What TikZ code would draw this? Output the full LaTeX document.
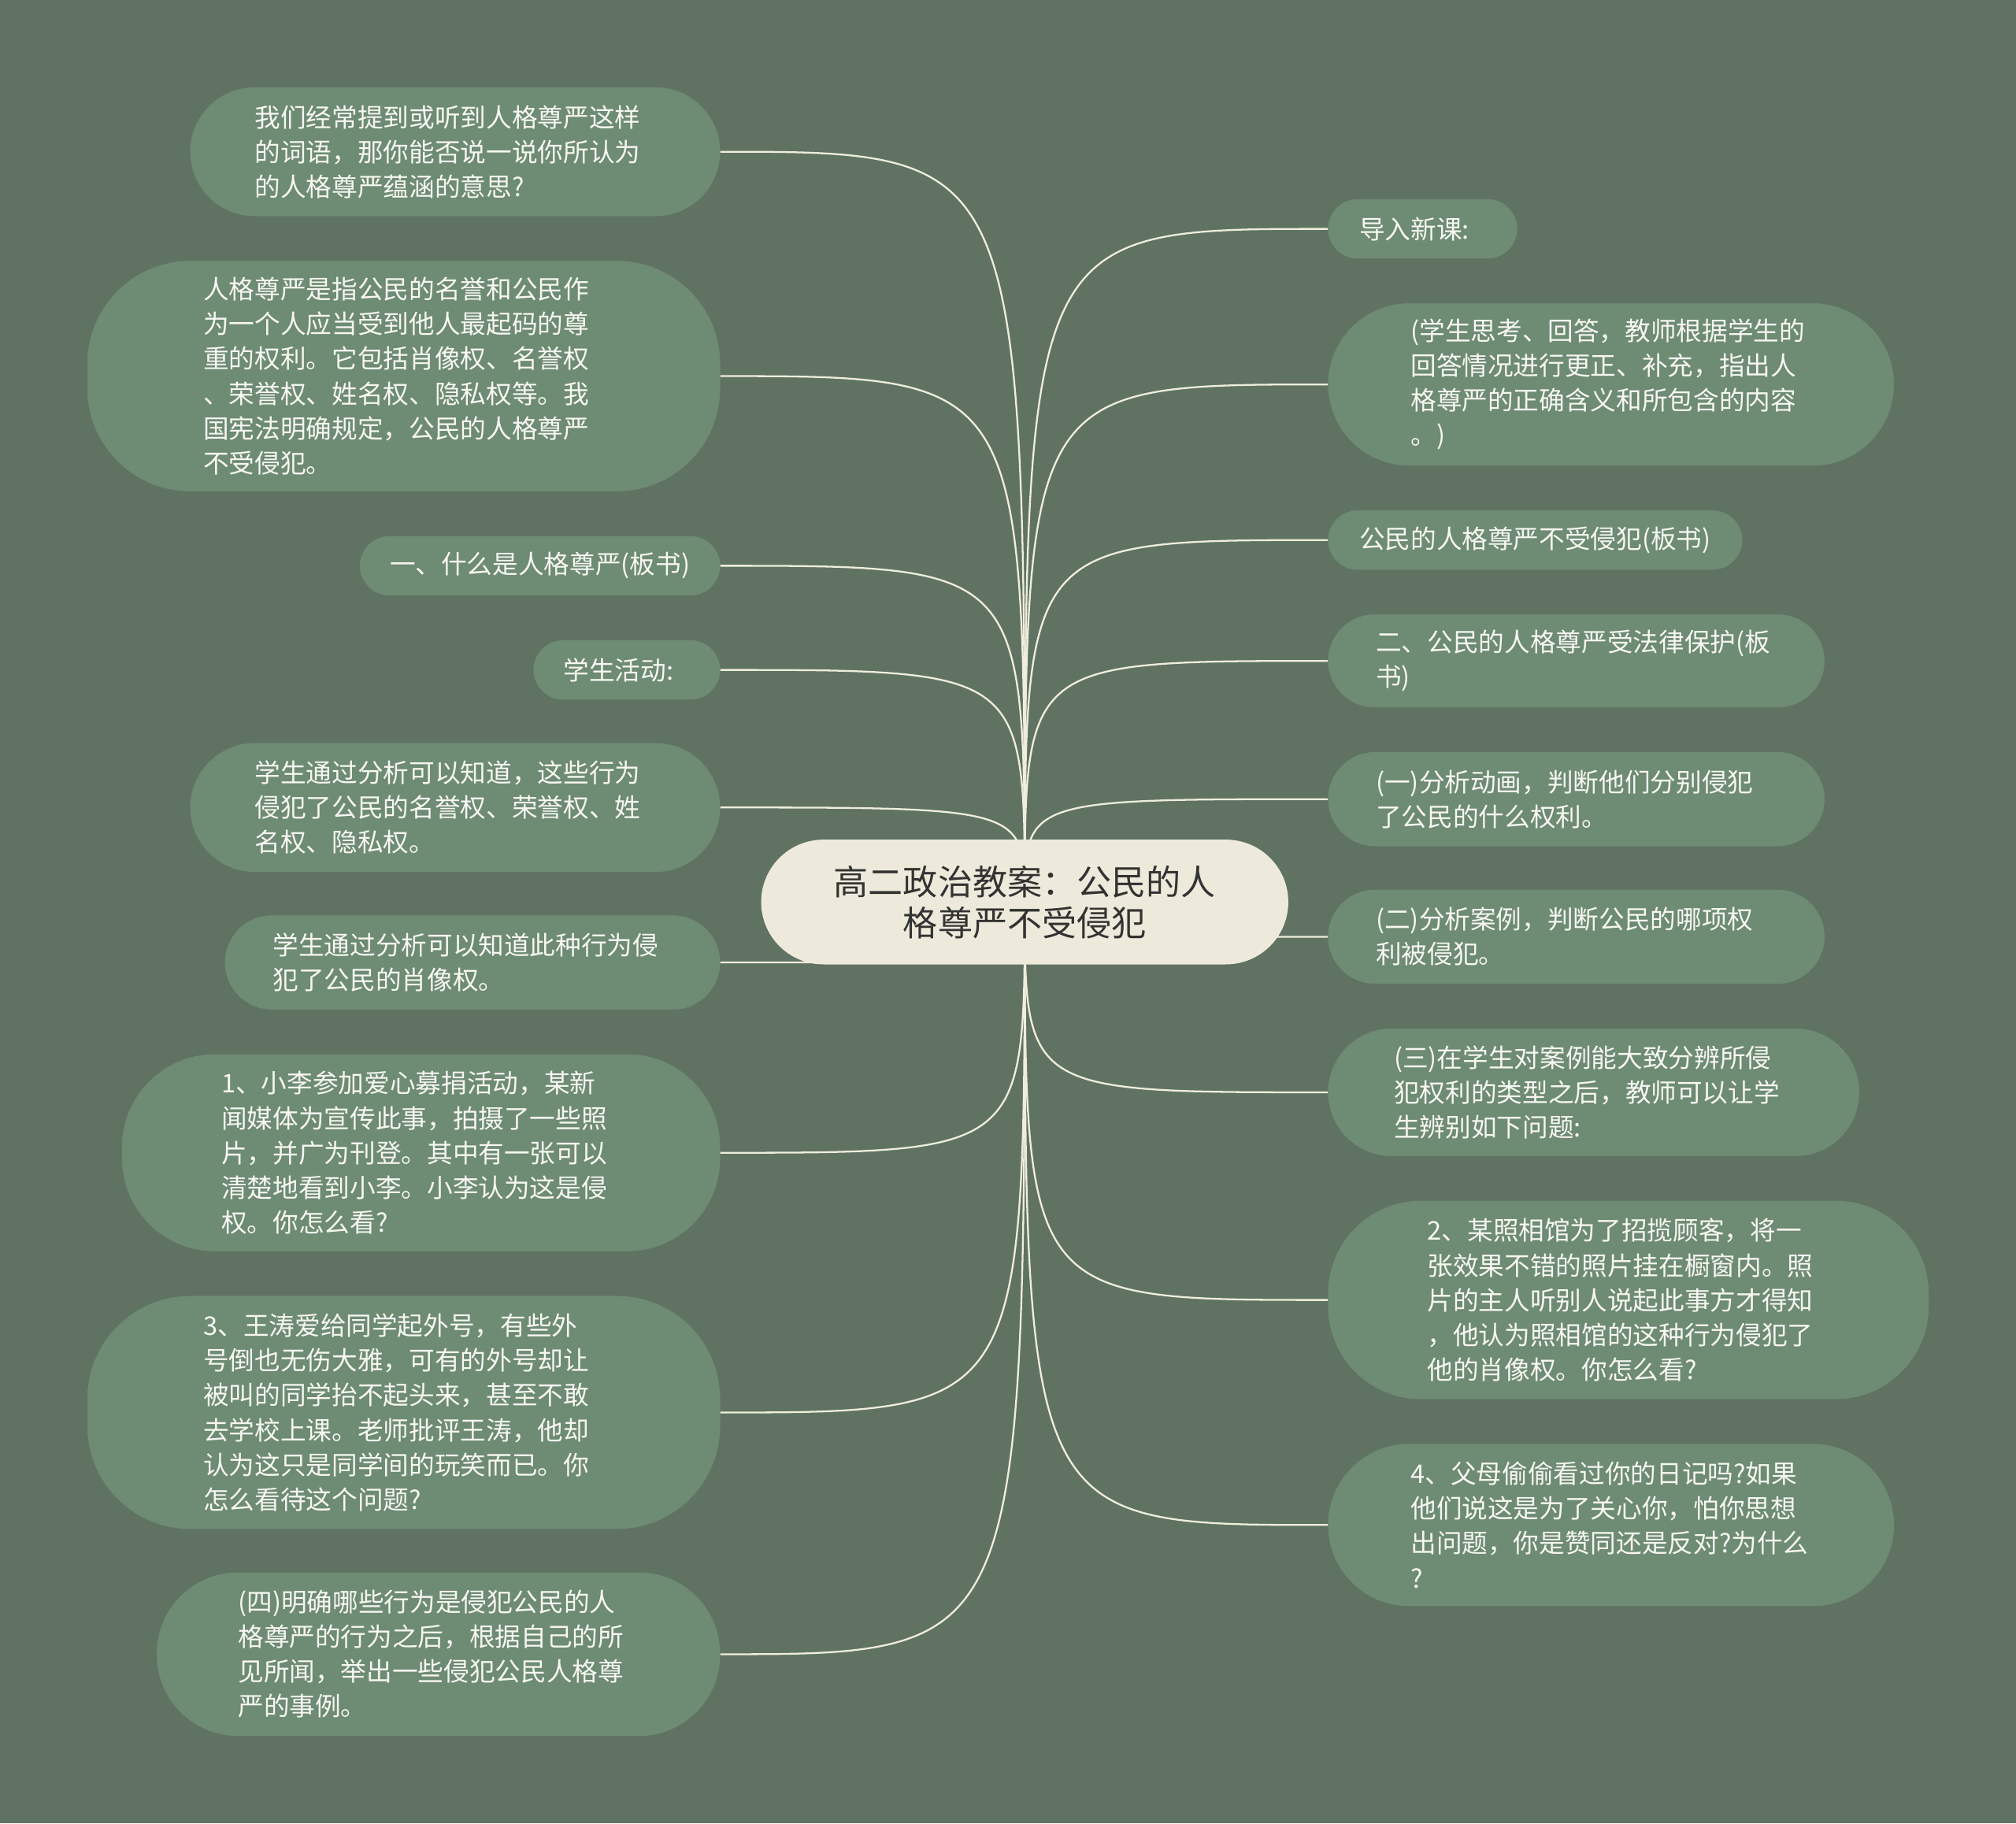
\documentclass[tikz,border=0pt]{standalone}
\usepackage{fontspec}
\newfontfamily\cjk{Noto Sans CJK SC}
\definecolor{bg}{HTML}{607363}
\definecolor{nodefill}{HTML}{6E8B74}
\definecolor{centerfill}{HTML}{EEEADB}
\definecolor{linkcol}{HTML}{F0EDDC}
\definecolor{txtcol}{HTML}{F7F7F2}
\definecolor{darktxt}{HTML}{333333}
\tikzset{
  box/.style={fill=nodefill, draw=none, inner sep=0pt},
  txt/.style={anchor=west, inner sep=0pt, align=left, text=txtcol, font=\cjk\fontsize{20}{27}\selectfont},
  link/.style={draw=linkcol, line width=1.4pt},
  hub/.style={fill=centerfill, draw=none, inner sep=0pt, align=center, text=darktxt, font=\cjk\fontsize{27}{32}\selectfont}
}
\begin{document}
\begin{tikzpicture}[x=1pt,y=-1pt]
\fill[bg] (0,0) rectangle (1568,1418);
\useasboundingbox (0,0) rectangle (1568,1418);

% coordinates for boxes (placed first so connectors can use them)
\coordinate (c0) at (797,701.5);
% left
\path (354,118) coordinate (pL1) (314,292.5) coordinate (pL2) (420,440) coordinate (pL3)
      (487.5,521) coordinate (pL4) (354,628) coordinate (pL5) (367.5,748.5) coordinate (pL6)
      (327.5,896.5) coordinate (pL7) (314,1098.5) coordinate (pL8) (341,1286.5) coordinate (pL9);
% right
\path (1106.5,178) coordinate (pR1) (1253,299) coordinate (pR2) (1194,420) coordinate (pR3)
      (1226,514) coordinate (pR4) (1226,621.5) coordinate (pR5) (1226,728.5) coordinate (pR6)
      (1239.5,849.5) coordinate (pR7) (1266.5,1011) coordinate (pR8) (1253,1186) coordinate (pR9);

% boxes (invisible first pass to get anchors)
\node[box, minimum width=412, minimum height=100, rounded corners=50] (L1) at (pL1) {};
\node[box, minimum width=492, minimum height=179, rounded corners=80] (L2) at (pL2) {};
\node[box, minimum width=280, minimum height=46, rounded corners=23] (L3) at (pL3) {};
\node[box, minimum width=145, minimum height=46, rounded corners=23] (L4) at (pL4) {};
\node[box, minimum width=412, minimum height=100, rounded corners=50] (L5) at (pL5) {};
\node[box, minimum width=385, minimum height=73, rounded corners=36.5] (L6) at (pL6) {};
\node[box, minimum width=465, minimum height=153, rounded corners=72] (L7) at (pL7) {};
\node[box, minimum width=492, minimum height=181, rounded corners=80] (L8) at (pL8) {};
\node[box, minimum width=438, minimum height=127, rounded corners=63] (L9) at (pL9) {};

\node[box, minimum width=147, minimum height=46, rounded corners=23] (R1) at (pR1) {};
\node[box, minimum width=440, minimum height=126, rounded corners=63] (R2) at (pR2) {};
\node[box, minimum width=322, minimum height=46, rounded corners=23] (R3) at (pR3) {};
\node[box, minimum width=386, minimum height=72, rounded corners=36] (R4) at (pR4) {};
\node[box, minimum width=386, minimum height=73, rounded corners=36.5] (R5) at (pR5) {};
\node[box, minimum width=386, minimum height=73, rounded corners=36.5] (R6) at (pR6) {};
\node[box, minimum width=413, minimum height=99, rounded corners=49.5] (R7) at (pR7) {};
\node[box, minimum width=467, minimum height=154, rounded corners=72] (R8) at (pR8) {};
\node[box, minimum width=440, minimum height=126, rounded corners=63] (R9) at (pR9) {};

% connectors
\foreach \n in {L1,L2,L3,L4,L5,L6,L7,L8,L9}{
  \draw[link] (c0) .. controls (c0 |- \n.east) .. (\n.east);
}
\foreach \n in {R1,R2,R3,R4,R5,R6,R7,R8,R9}{
  \draw[link] (c0) .. controls (c0 |- \n.west) .. (\n.west);
}

% redraw boxes over connectors
\node[box, minimum width=412, minimum height=100, rounded corners=50] at (pL1) {};
\node[box, minimum width=492, minimum height=179, rounded corners=80] at (pL2) {};
\node[box, minimum width=280, minimum height=46, rounded corners=23] at (pL3) {};
\node[box, minimum width=145, minimum height=46, rounded corners=23] at (pL4) {};
\node[box, minimum width=412, minimum height=100, rounded corners=50] at (pL5) {};
\node[box, minimum width=385, minimum height=73, rounded corners=36.5] at (pL6) {};
\node[box, minimum width=465, minimum height=153, rounded corners=72] at (pL7) {};
\node[box, minimum width=492, minimum height=181, rounded corners=80] at (pL8) {};
\node[box, minimum width=438, minimum height=127, rounded corners=63] at (pL9) {};
\node[box, minimum width=147, minimum height=46, rounded corners=23] at (pR1) {};
\node[box, minimum width=440, minimum height=126, rounded corners=63] at (pR2) {};
\node[box, minimum width=322, minimum height=46, rounded corners=23] at (pR3) {};
\node[box, minimum width=386, minimum height=72, rounded corners=36] at (pR4) {};
\node[box, minimum width=386, minimum height=73, rounded corners=36.5] at (pR5) {};
\node[box, minimum width=386, minimum height=73, rounded corners=36.5] at (pR6) {};
\node[box, minimum width=413, minimum height=99, rounded corners=49.5] at (pR7) {};
\node[box, minimum width=467, minimum height=154, rounded corners=72] at (pR8) {};
\node[box, minimum width=440, minimum height=126, rounded corners=63] at (pR9) {};

% center
\node[hub, minimum width=410, minimum height=97, rounded corners=48.5] (C) at (c0) {高二政治教案：公民的人\\格尊严不受侵犯};

% texts
\node[txt] (tL1) at (198,118) {我们经常提到或听到人格尊严这样\\的词语，那你能否说一说你所认为\\的人格尊严蕴涵的意思?};
\node[txt] (tL2) at (158,292.5) {人格尊严是指公民的名誉和公民作\\为一个人应当受到他人最起码的尊\\重的权利。它包括肖像权、名誉权\\、荣誉权、姓名权、隐私权等。我\\国宪法明确规定，公民的人格尊严\\不受侵犯。};
\node[txt] (tL3) at (303,440) {一、什么是人格尊严(板书)};
\node[txt] (tL4) at (438,521) {学生活动:};
\node[txt] (tL5) at (198,628) {学生通过分析可以知道，这些行为\\侵犯了公民的名誉权、荣誉权、姓\\名权、隐私权。};
\node[txt] (tL6) at (212,748.5) {学生通过分析可以知道此种行为侵\\犯了公民的肖像权。};
\node[txt] (tL7) at (172,896.5) {1、小李参加爱心募捐活动，某新\\闻媒体为宣传此事，拍摄了一些照\\片，并广为刊登。其中有一张可以\\清楚地看到小李。小李认为这是侵\\权。你怎么看?};
\node[txt] (tL8) at (158,1098.5) {3、王涛爱给同学起外号，有些外\\号倒也无伤大雅，可有的外号却让\\被叫的同学抬不起头来，甚至不敢\\去学校上课。老师批评王涛，他却\\认为这只是同学间的玩笑而已。你\\怎么看待这个问题?};
\node[txt] (tL9) at (185,1286.5) {(四)明确哪些行为是侵犯公民的人\\格尊严的行为之后，根据自己的所\\见所闻，举出一些侵犯公民人格尊\\严的事例。};

\node[txt] (tR1) at (1057,178) {导入新课:};
\node[txt] (tR2) at (1097,299) {(学生思考、回答，教师根据学生的\\回答情况进行更正、补充，指出人\\格尊严的正确含义和所包含的内容\\。)};
\node[txt] (tR3) at (1057,420) {公民的人格尊严不受侵犯(板书)};
\node[txt] (tR4) at (1070,514) {二、公民的人格尊严受法律保护(板\\书)};
\node[txt] (tR5) at (1070,621.5) {(一)分析动画，判断他们分别侵犯\\了公民的什么权利。};
\node[txt] (tR6) at (1070,728.5) {(二)分析案例，判断公民的哪项权\\利被侵犯。};
\node[txt] (tR7) at (1084,849.5) {(三)在学生对案例能大致分辨所侵\\犯权利的类型之后，教师可以让学\\生辨别如下问题:};
\node[txt] (tR8) at (1110,1011) {2、某照相馆为了招揽顾客，将一\\张效果不错的照片挂在橱窗内。照\\片的主人听别人说起此事方才得知\\，他认为照相馆的这种行为侵犯了\\他的肖像权。你怎么看?};
\node[txt] (tR9) at (1097,1186) {4、父母偷偷看过你的日记吗?如果\\他们说这是为了关心你，怕你思想\\出问题，你是赞同还是反对?为什么\\?};
\end{tikzpicture}
\end{document}
